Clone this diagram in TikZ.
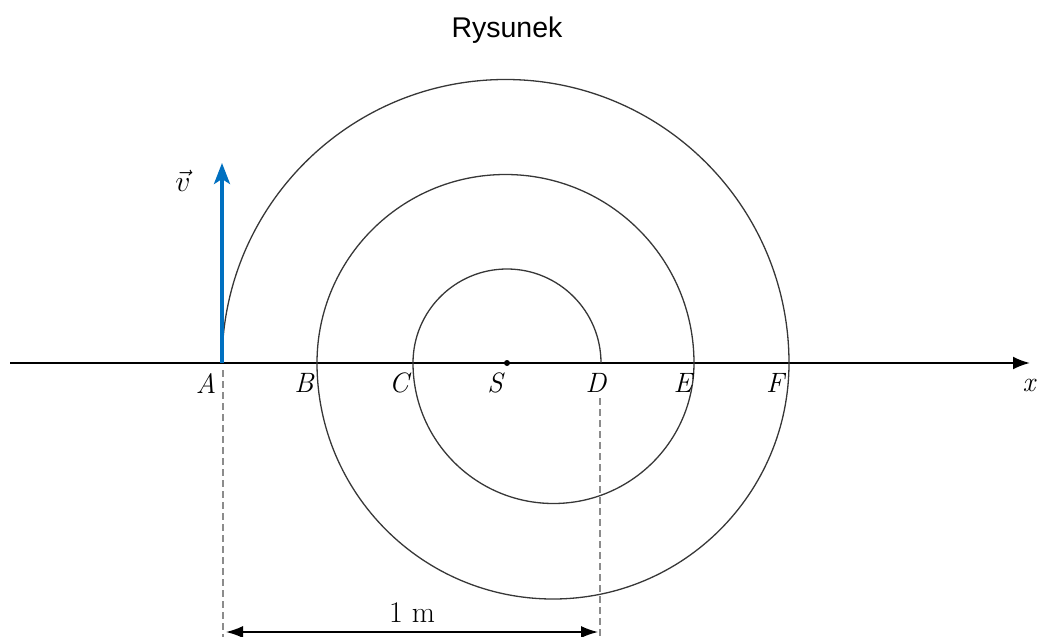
\documentclass[tikz,border=0pt]{standalone}
\usepackage{fontspec}
\newfontfamily\titlefont{Liberation Sans}
\usetikzlibrary{arrows.meta}
\definecolor{vblue}{RGB}{0,112,192}
\definecolor{curvegray}{RGB}{55,55,55}
\definecolor{dashgray}{RGB}{140,140,140}
\begin{document}
\begin{tikzpicture}[x=1pt,y=1pt,
  lbl/.style={font=\fontsize{28}{32}\selectfont\itshape, inner sep=0pt},
  spiral/.style={draw=curvegray, line width=1.3pt},
  axisline/.style={line width=2.2pt, -{Latex[length=17pt,width=13pt]}},
  guide/.style={draw=dashgray, line width=1.8pt, dash pattern=on 7pt off 4pt},
  dimline/.style={line width=1.5pt, {Latex[length=17pt,width=12pt]}-{Latex[length=17pt,width=12pt]}},
  vel/.style={draw=vblue, line width=3.5pt, -{Stealth[length=21pt,width=16pt,inset=5pt]}},
  dot/.style={circle, fill=black, inner sep=0pt, minimum size=6pt}
]
\useasboundingbox (0,0) rectangle (1039,-637);
% axis
\coordinate (O) at (10,-363);
\coordinate (X) at (1030,-363);
\draw[axisline] (O) -- (X);
% points on the axis
\coordinate (A) at (222,-363);
\coordinate (B) at (317,-363);
\coordinate (C) at (413,-363);
\coordinate (D) at (601,-363);
\coordinate (E) at (694,-363);
\coordinate (F) at (789,-363);
\node[dot] (S) at (507,-363) {};
% spiral path
\draw[spiral] (A) arc[start angle=180, end angle=0, radius=283.5pt]
  arc[start angle=0, end angle=-180, radius=236pt]
  arc[start angle=180, end angle=0, radius=188.5pt]
  arc[start angle=0, end angle=-180, radius=140.5pt]
  arc[start angle=180, end angle=0, radius=94pt];
% velocity
\coordinate (vtip) at (222,-163);
\draw[vel] (A) -- (vtip);
\node[font=\fontsize{24}{28}\selectfont, inner sep=0pt, scale=1.2] (vlab) at (183,-181) {$\vec{v}$};
% guides
\coordinate (gA1) at (223,-370);
\coordinate (gA2) at (223,-637);
\coordinate (gD1) at (600,-398);
\coordinate (gD2) at (600,-637);
\draw[guide] (gA1) -- (gA2);
\draw[guide] (gD1) -- (gD2);
% dimension
\coordinate (dL) at (226,-632);
\coordinate (dR) at (598,-632);
\draw[dimline] (dL) -- (dR);
\node[font=\fontsize{30}{34}\selectfont, inner sep=0pt] (dimlab) at (412,-613) {1 m};
% labels
\node[lbl] (lA) at (206,-383) {A};
\node[lbl] (lB) at (304,-383) {B};
\node[lbl] (lC) at (399,-383) {C};
\node[lbl] (lS) at (495,-383) {S};
\node[lbl] (lD) at (596,-383) {D};
\node[lbl] (lE) at (683,-383) {E};
\node[lbl] (lF) at (775,-383) {F};
\node[lbl] (lx) at (1029,-385) {x};
% title
\node[font=\titlefont\fontsize{28.5}{32}\selectfont, anchor=base, inner sep=0pt] (title) at (507,-37) {Rysunek};
\end{tikzpicture}
\end{document}
